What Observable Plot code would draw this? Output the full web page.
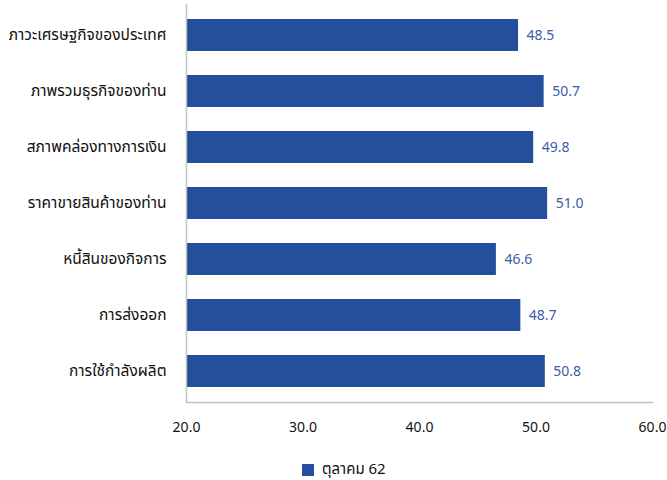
<!DOCTYPE html>
<html><head><meta charset="utf-8">
<script src="https://cdn.jsdelivr.net/npm/d3@7"></script>
<script src="https://cdn.jsdelivr.net/npm/@observablehq/plot@0.6"></script>
<style>
body{margin:0;background:#fff;font-family:"Noto Sans","Noto Sans Thai",Tahoma,sans-serif;}
#wrap{position:relative;width:667px;height:480px;}
#legend{position:absolute;left:302px;top:458px;display:flex;align-items:center;font-size:15px;color:#111;}
#legend .sw{width:12px;height:12px;background:#254f9c;margin-right:8px;}
</style></head>
<body><div id="wrap"><div id="chart"></div><div id="legend"><div class="sw"></div><span>ตุลาคม 62</span></div></div>
<script>
const categories = ["ภาวะเศรษฐกิจของประเทศ","ภาพรวมธุรกิจของท่าน","สภาพคล่องทางการเงิน","ราคาขายสินค้าของท่าน","หนี้สินของกิจการ","การส่งออก","การใช้กำลังผลิต"];
const values = [48.5, 50.7, 49.8, 51.0, 46.6, 48.7, 50.8];
const xTicks = [20, 30, 40, 50, 60];
const seriesName = "ตุลาคม 62";
const data = categories.map((c,i)=>({cat:c, v:values[i]}));
const fmt = d3.format(".1f");
const chart = Plot.plot({
  width: 667, height: 445,
  marginLeft: 186, marginRight: 15, marginTop: 4, marginBottom: 43,
  style: {fontFamily: '"Noto Sans","Noto Sans Thai",Tahoma,sans-serif', fontSize: "14px", color: "#111"},
  x: {domain: [20, 60]},
  y: {domain: categories, paddingInner: 0.42, paddingOuter: 0.21},
  marks: [
    Plot.barX(data, {y: "cat", x1: 20, x2: "v", fill: "#254f9c"}),
    Plot.text(data, {y: "cat", x: "v", text: d => fmt(d.v), textAnchor: "start", dx: 8, fill: "#3a5ca8", fontSize: 14}),
    Plot.ruleX([20], {stroke: "#c0c0c0", strokeWidth: 1.5}),
    Plot.frame({anchor: "bottom", stroke: "#c0c0c0", strokeWidth: 1.5}),
    Plot.axisX({ticks: xTicks, tickFormat: fmt, tickSize: 0, tickPadding: 20, fontSize: 14, label: null}),
    Plot.axisY({tickSize: 0, tickPadding: 20, fontSize: 15.5, label: null})
  ]
});
document.getElementById("chart").appendChild(chart);
</script></body></html>
